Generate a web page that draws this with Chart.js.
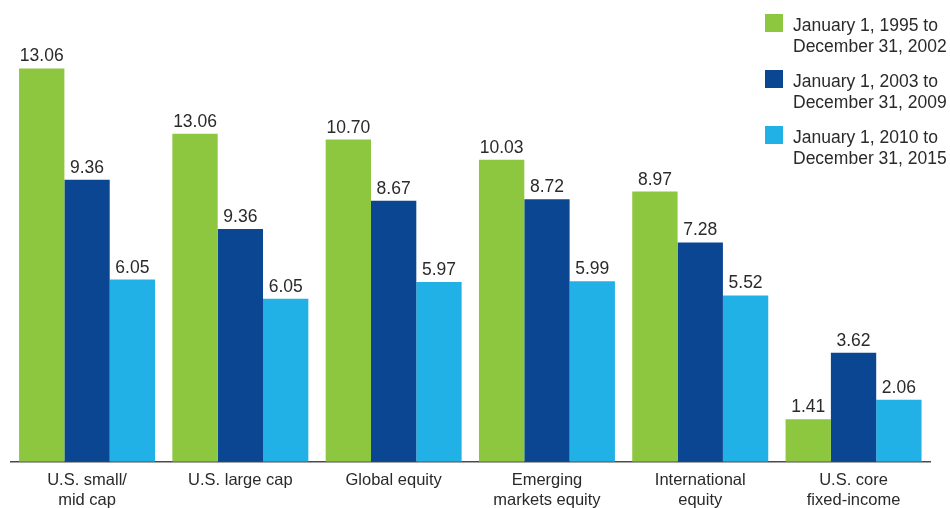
<!DOCTYPE html>
<html>
<head>
<meta charset="utf-8">
<script src="https://cdn.jsdelivr.net/npm/chart.js@4"></script>
<style>
  html, body { margin: 0; padding: 0; background: #ffffff; }
  #wrap { width: 950px; height: 508px; position: relative; }
</style>
</head>
<body>
<div id="wrap"><canvas id="c" width="950" height="508"></canvas></div>
<script>
// Categories (x axis, multi-line)
const categories = [
  ['U.S. small/', 'mid cap'],
  ['U.S. large cap'],
  ['Global equity'],
  ['Emerging', 'markets equity'],
  ['International', 'equity'],
  ['U.S. core', 'fixed-income']
];

// Series names (legend, two lines each)
const seriesNames = [
  ['January 1, 1995 to', 'December 31, 2002'],
  ['January 1, 2003 to', 'December 31, 2009'],
  ['January 1, 2010 to', 'December 31, 2015']
];

// Bar heights
const period1 = [13.06, 10.89, 10.70, 10.03, 8.97, 1.41];
const period2 = [9.36, 7.73, 8.67, 8.72, 7.28, 3.62];
const period3 = [6.05, 5.41, 5.97, 5.99, 5.52, 2.06];

// Value labels as printed in the picture
const period1Labels = ['13.06', '13.06', '10.70', '10.03', '8.97', '1.41'];
const period2Labels = ['9.36', '9.36', '8.67', '8.72', '7.28', '3.62'];
const period3Labels = ['6.05', '6.05', '5.97', '5.99', '5.52', '2.06'];

const colors = ['#8dc63f', '#0b4693', '#22b1e7'];
const textColor = '#2a2a2a';
const FONT = "'Liberation Sans', Arial, sans-serif";

const valueLabelPlugin = {
  id: 'valueLabels',
  afterDatasetsDraw(chart) {
    const ctx = chart.ctx;
    ctx.save();
    ctx.font = '17.5px ' + FONT;
    ctx.fillStyle = textColor;
    ctx.textAlign = 'center';
    ctx.textBaseline = 'alphabetic';
    chart.data.datasets.forEach((ds, di) => {
      const meta = chart.getDatasetMeta(di);
      meta.data.forEach((bar, i) => {
        ctx.fillText(ds.valueLabels[i], bar.x, bar.y - 7);
      });
    });
    ctx.restore();
  }
};

const legendPlugin = {
  id: 'customLegend',
  afterDraw(chart) {
    const ctx = chart.ctx;
    ctx.save();
    ctx.font = '17.5px ' + FONT;
    ctx.textAlign = 'left';
    ctx.textBaseline = 'alphabetic';
    chart.data.datasets.forEach((ds, di) => {
      const top = 14 + di * 56;
      ctx.fillStyle = ds.backgroundColor;
      ctx.fillRect(765, top, 18, 18);
      ctx.fillStyle = textColor;
      const lines = ds.legendLines;
      lines.forEach((ln, li) => {
        ctx.fillText(ln, 793, top + 17 + li * 21);
      });
    });
    ctx.restore();
  }
};

new Chart(document.getElementById('c'), {
  type: 'bar',
  data: {
    labels: categories,
    datasets: [
      { label: seriesNames[0].join(' '), legendLines: seriesNames[0], data: period1, valueLabels: period1Labels, backgroundColor: colors[0] },
      { label: seriesNames[1].join(' '), legendLines: seriesNames[1], data: period2, valueLabels: period2Labels, backgroundColor: colors[1] },
      { label: seriesNames[2].join(' '), legendLines: seriesNames[2], data: period3, valueLabels: period3Labels, backgroundColor: colors[2] }
    ]
  },
  options: {
    responsive: false,
    animation: false,
    devicePixelRatio: 1,
    layout: { padding: { left: 10.4, right: 19.8, top: 1, bottom: 0 } },
    datasets: {
      bar: { barPercentage: 1.0, categoryPercentage: 0.887, borderWidth: 0 }
    },
    plugins: {
      legend: { display: false },
      tooltip: { enabled: false }
    },
    scales: {
      y: {
        display: false,
        min: 0,
        max: 15.3
      },
      x: {
        grid: { display: false, drawTicks: false },
        border: { display: true, color: '#4a4a4a', width: 1.5 },
        ticks: {
          color: textColor,
          font: { family: FONT, size: 16.5, lineHeight: 20 / 16.5 },
          padding: 9,
          maxRotation: 0,
          autoSkip: false
        },
        afterFit(scale) { scale.height = 46.3; }
      }
    }
  },
  plugins: [valueLabelPlugin, legendPlugin]
});
</script>
</body>
</html>
